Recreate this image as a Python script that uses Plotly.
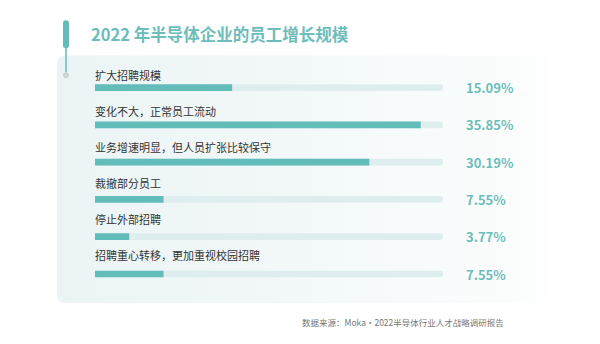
import base64
import plotly.graph_objects as go

# ---------------- data ----------------
categories = [
    "扩大招聘规模",
    "变化不大，正常员工流动",
    "业务增速明显，但人员扩张比较保守",
    "裁撤部分员工",
    "停止外部招聘",
    "招聘重心转移，更加重视校园招聘",
]
values = [15.09, 35.85, 30.19, 7.55, 3.77, 7.55]
track_max = 38.3
title_text = "2022 年半导体企业的员工增长规模"
source_text = "数据来源：Moka·2022半导体行业人才战略调研报告"

# ---------------- geometry helpers ----------------
W, H = 600, 344
ML, MR, MT, MB = 95, 157, 68.8, 41.2
PW, PH = W - ML - MR, H - MT - MB


def px_x(p):
    return (p - ML) / PW


def px_y(p):
    return (H - MB - p) / PH


TEAL = "#62bcba"
TRACK = "#deeeef"
TEXT_TEAL = "#6cbdbb"
FONT = "Noto Sans CJK SC, Noto Sans, sans-serif"

fig = go.Figure()
fig.add_trace(go.Bar(
    y=categories, x=[track_max] * len(categories), orientation="h",
    marker=dict(color=TRACK, cornerradius="50%", line=dict(width=0)),
    width=0.18, hoverinfo="skip", showlegend=False,
))
fig.add_trace(go.Bar(
    y=categories, x=values, orientation="h",
    marker=dict(color=TEAL, cornerradius="50%", line=dict(width=0)),
    width=0.18, showlegend=False,
))

# background panel with gradient (svg data uri)
svg = (
    '<svg xmlns="http://www.w3.org/2000/svg" width="493" height="248" viewBox="0 0 493 248">'
    '<defs><linearGradient id="g" x1="0" y1="0" x2="1" y2="0">'
    '<stop offset="0" stop-color="#ebf4f5"/>'
    '<stop offset="0.55" stop-color="#f4f9f9"/>'
    '<stop offset="1" stop-color="#fdfefe"/>'
    '</linearGradient></defs>'
    '<rect x="0" y="0" width="493" height="248" rx="8" ry="8" fill="url(#g)"/>'
    '</svg>'
)
src = "data:image/svg+xml;base64," + base64.b64encode(svg.encode()).decode()
fig.add_layout_image(dict(
    source=src, xref="paper", yref="paper",
    x=px_x(57), y=px_y(55), sizex=px_x(550) - px_x(57), sizey=px_y(55) - px_y(303),
    xanchor="left", yanchor="top", sizing="stretch", layer="below",
))

# decoration: title bar, thin line, dot
shapes = [
    dict(type="line", xref="paper", yref="paper",
         x0=px_x(66), x1=px_x(66), y0=px_y(23), y1=px_y(45),
         line=dict(color=TEAL, width=6)),
    dict(type="circle", xref="paper", yref="paper",
         x0=px_x(63), x1=px_x(69), y0=px_y(20), y1=px_y(26),
         fillcolor=TEAL, line=dict(width=0)),
    dict(type="circle", xref="paper", yref="paper",
         x0=px_x(63), x1=px_x(69), y0=px_y(42), y1=px_y(48),
         fillcolor=TEAL, line=dict(width=0)),
    dict(type="line", xref="paper", yref="paper",
         x0=px_x(66), x1=px_x(66), y0=px_y(47), y1=px_y(72),
         line=dict(color=TEAL, width=1.5)),
    dict(type="circle", xref="paper", yref="paper",
         x0=px_x(63), x1=px_x(69), y0=px_y(72), y1=px_y(78),
         fillcolor="#cdd2d2", line=dict(width=0)),
]

annotations = []
for i, (c, v) in enumerate(zip(categories, values)):
    annotations.append(dict(
        x=px_x(93), xref="paper", y=c, yref="y", text=c,
        xanchor="left", yanchor="middle", yshift=13 + 1.2 * i, showarrow=False,
        font=dict(family=FONT, size=11, color="#333333"),
    ))
    annotations.append(dict(
        x=px_x(464), xref="paper", y=c, yref="y", text=f"<b>{v:.2f}%</b>",
        xanchor="left", yanchor="middle", showarrow=False,
        font=dict(family=FONT, size=13, color=TEXT_TEAL),
    ))
annotations.append(dict(
    x=px_x(300), xref="paper", y=px_y(322), yref="paper", text=source_text,
    xanchor="left", yanchor="middle", showarrow=False,
    font=dict(family=FONT, size=8.5, color="#777777"),
))

fig.update_layout(
    width=W, height=H,
    margin=dict(l=ML, r=MR, t=MT, b=MB, pad=0),
    paper_bgcolor="white", plot_bgcolor="rgba(0,0,0,0)",
    barmode="overlay",
    title=dict(text=f"<b>{title_text}</b>", x=91 / W, xanchor="left",
               y=1 - 35 / H, yanchor="middle",
               font=dict(family=FONT, size=16.5, color=TEXT_TEAL)),
    xaxis=dict(range=[0, track_max], visible=False, fixedrange=True),
    yaxis=dict(categoryorder="array", categoryarray=categories,
               autorange="reversed", visible=False, fixedrange=True),
    shapes=shapes, annotations=annotations,
)

fig.write_html("out.html", config={"displayModeBar": False})
